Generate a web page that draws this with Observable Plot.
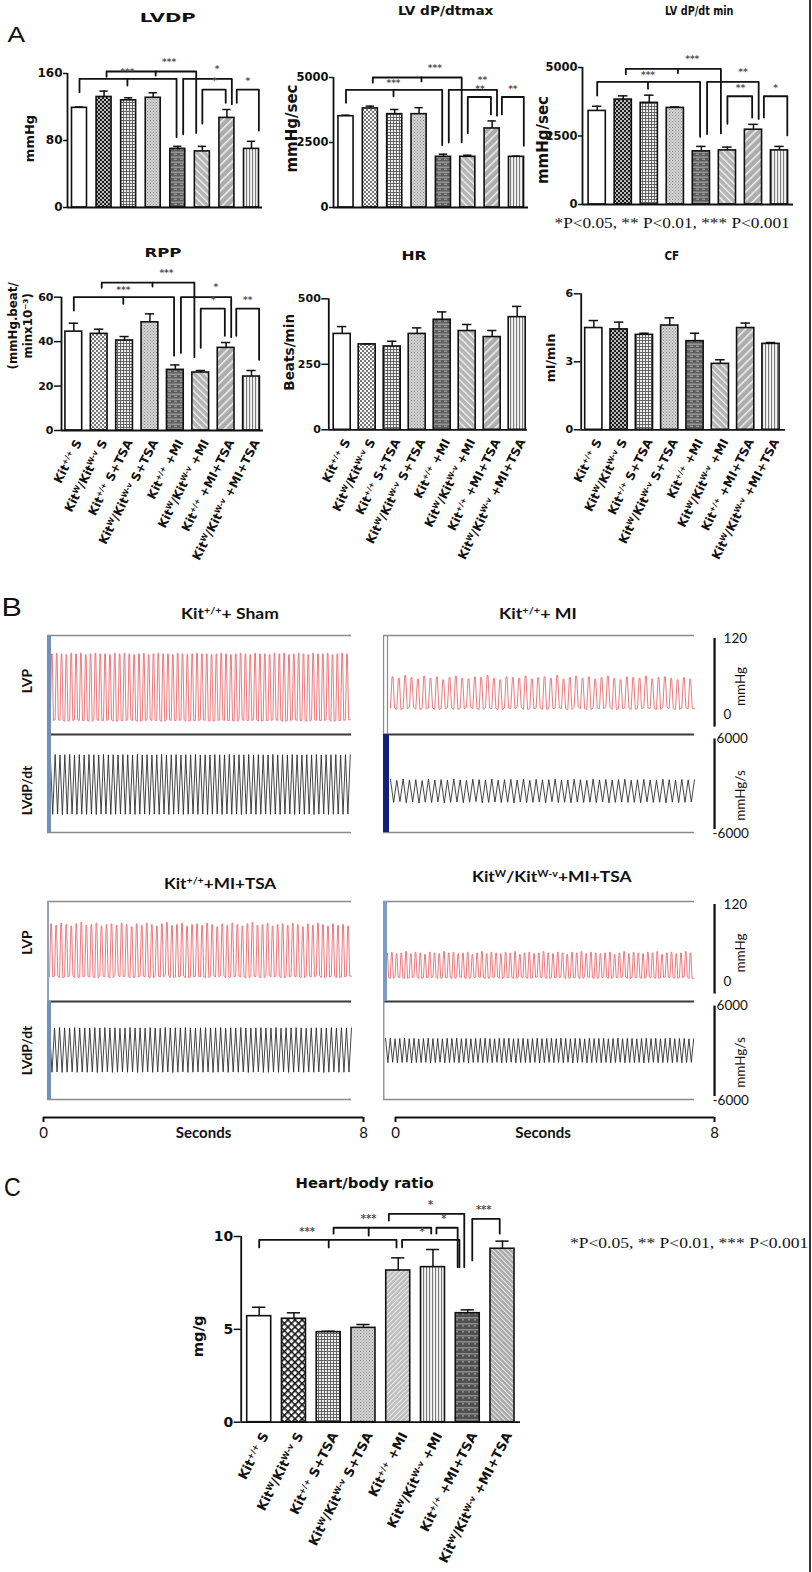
<!DOCTYPE html>
<html><head><meta charset="utf-8">
<script src="https://cdn.jsdelivr.net/npm/d3@7"></script>
<script src="https://cdn.jsdelivr.net/npm/@observablehq/plot@0.6"></script>
<style>
body{margin:0;background:#fff}
#fig{position:relative;width:812px;height:1572px;overflow:hidden;background:#fff}
.lab{position:absolute;white-space:nowrap;line-height:1;transform-origin:50% 50%;color:#111}
.lab sup{font-size:62%;vertical-align:0.55em;line-height:0}
</style></head><body>
<svg width="0" height="0" style="position:absolute"><defs>
<pattern id="pCheckD" width="4" height="4" patternUnits="userSpaceOnUse"><rect width="4" height="4" fill="#1e1e1e"/><circle cx="1" cy="1" r="0.95" fill="#fff"/><circle cx="3" cy="3" r="0.95" fill="#fff"/></pattern>
<pattern id="pCheckL" width="4" height="4" patternUnits="userSpaceOnUse"><rect width="4" height="4" fill="#fafafa"/><rect width="2" height="2" fill="#777"/><rect x="2" y="2" width="2" height="2" fill="#777"/></pattern>
<pattern id="pGrid" width="3" height="3" patternUnits="userSpaceOnUse"><rect width="3" height="3" fill="#efefef"/><path d="M0 0.5H3M0.5 0V3" stroke="#5a5a5a" stroke-width="0.9"/></pattern>
<pattern id="pStip" width="3" height="3" patternUnits="userSpaceOnUse"><rect width="3" height="3" fill="#d2d2d2"/><rect width="1" height="1" fill="#8a8a8a"/><rect x="1.5" y="1.5" width="1" height="1" fill="#a0a0a0"/></pattern>
<pattern id="pHstr" width="6" height="5" patternUnits="userSpaceOnUse"><rect width="6" height="5" fill="#5e5e5e"/><rect y="1.5" width="6" height="1.4" fill="#9a9a9a"/><rect y="3.8" width="3" height="0.7" fill="#d0d0d0"/></pattern>
<pattern id="pHstr2" width="6" height="6" patternUnits="userSpaceOnUse"><rect width="6" height="6" fill="#505050"/><rect y="2" width="6" height="1.5" fill="#8c8c8c"/><rect y="4.5" width="2" height="0.8" fill="#ccc"/></pattern>
<pattern id="pDiagB" width="5" height="5" patternUnits="userSpaceOnUse" patternTransform="rotate(-45)"><rect width="5" height="5" fill="#b4b4b4"/><rect width="1.4" height="5" fill="#f2f2f2"/></pattern>
<pattern id="pDiagF" width="6" height="6" patternUnits="userSpaceOnUse" patternTransform="rotate(45)"><rect width="6" height="6" fill="#acacac"/><rect width="1.5" height="6" fill="#f0f0f0"/></pattern>
<pattern id="pVert" width="3" height="3" patternUnits="userSpaceOnUse"><rect width="3" height="3" fill="#f4f4f4"/><rect width="1.1" height="3" fill="#7a7a7a"/></pattern>
<pattern id="pXhatch" width="5" height="5" patternUnits="userSpaceOnUse" patternTransform="rotate(45)"><rect width="5" height="5" fill="#fff"/><path d="M0.8 0V5M0 0.8H5" stroke="#111" stroke-width="1.6"/></pattern>
<pattern id="pDiagF2" width="3.5" height="3.5" patternUnits="userSpaceOnUse" patternTransform="rotate(45)"><rect width="3.5" height="3.5" fill="#bdbdbd"/><rect width="1" height="3.5" fill="#f0f0f0"/></pattern>
<pattern id="pDiagB2" width="3.5" height="3.5" patternUnits="userSpaceOnUse" patternTransform="rotate(-45)"><rect width="3.5" height="3.5" fill="#a8a8a8"/><rect width="1" height="3.5" fill="#eeeeee"/></pattern>
</defs></svg>
<div id="fig"></div>
<script>
// ---------------- DATA ----------------
const categories = ["Kit^{+/+} S", "Kit^{W}/Kit^{W-v} S", "Kit^{+/+} S+TSA", "Kit^{W}/Kit^{W-v} S+TSA",
  "Kit^{+/+} +MI", "Kit^{W}/Kit^{W-v} +MI", "Kit^{+/+} +MI+TSA", "Kit^{W}/Kit^{W-v} +MI+TSA"];

const lvdp = [119, 132, 128, 131, 70, 67, 107, 70];
const lvdpErr = [1, 7, 3, 6, 3, 6, 10, 9];
const dpmax = [3510, 3810, 3590, 3590, 1950, 1950, 3040, 1950];
const dpmaxErr = [40, 90, 180, 250, 100, 60, 290, 25];
const dpmin = [3415, 3830, 3710, 3525, 1940, 1975, 2730, 1975];
const dpminErr = [170, 135, 280, 35, 180, 120, 195, 145];
const rpp = [44.5, 43.5, 40.5, 48.7, 27.3, 26.1, 37.2, 24.3];
const rppErr = [3.8, 2.1, 1.8, 3.8, 2.2, 0.9, 2.4, 2.7];
const hr = [366, 326, 318, 366, 420, 377, 354, 430];
const hrErr = [28, 2, 20, 23, 30, 25, 25, 41];
const cf = [4.49, 4.43, 4.19, 4.60, 3.91, 2.91, 4.49, 3.79];
const cfErr = [0.33, 0.32, 0.07, 0.34, 0.35, 0.18, 0.22, 0.06];
const heartBody = [5.71, 5.57, 4.85, 5.08, 8.17, 8.35, 5.87, 9.34];
const heartBodyErr = [0.48, 0.32, 0.05, 0.18, 0.68, 0.95, 0.18, 0.41];

const ticksLVDP = [0, 80, 160];
const ticksDP = [0, 2500, 5000];
const ticksRPP = [0, 20, 40, 60];
const ticksHR = [0, 250, 500];
const ticksCF = [0, 3, 6];
const ticksHB = [0, 5, 10];
const secondsTicks = [0, 8];

const sigLVDP = {T: "***", L: "***", R1: "*", S1: "*", R2: "*"};
const sigDPmax = {T: "***", L: "***", R1: "**", S1: "**", R2: "**"};
const sigDPmin = {T: "***", L: "***", R1: "**", S1: "**", R2: "*"};
const sigRPP = {T: "***", L: "***", R1: "*", S1: "*", R2: "**"};
const hbBrackets = [
  {x1: 0, x2: 3.95, level: 9.82, y1: 9.41, y2: 9.41, tick: 2.0, tickEnd: 9.41, s: "***", lx: 1.38, ly: 10.27},
  {x1: 2.14, x2: 4.95, level: 10.47, y1: 10.16, y2: 10.16, tick: 3.15, tickEnd: 10.05, s: "***", lx: 3.15, ly: 10.97},
  {x1: 3.73, x2: 5.9, level: 11.22, y1: 10.86, y2: 8.35, s: "*", lx: 4.93, ly: 11.72},
  {x1: 5.1, x2: 5.71, level: 10.47, y1: 10.16, y2: 8.35, s: "*", lx: 5.31, ly: 10.93},
  {x1: 4.11, x2: 5.76, level: 9.82, y1: 9.42, y2: 8.35, s: "*", lx: 4.69, ly: 10.24},
  {x1: 6.13, x2: 6.92, level: 10.95, y1: 8.71, y2: 10.15, s: "***", lx: 6.46, ly: 11.42}
];

const shamLvpPk = [99,100,99,98,100,99,100,98,99,100, 99,99,98,100,99,100,99,98,99,100, 98,99,100,99,99,98,100,99,98,99, 100,99,99,98,99,100,99,98,99,100, 99,98,100,99,99,98,100,99,100,98, 99,100,99,98,100,99,99,100,98,99, 100,99];
const shamLvpTr = [9,10,9,8,9,10,9,9,8,10, 9,9,10,8,9,9,10,9,8,9, 10,9,9,8,10,9,9,10,8,9, 9,10,9,8,9,10,9,9,8,10, 9,9,10,8,9,9,10,9,8,9, 10,9,9,8,10,9,9,10,8,9, 9,10];
const shamDpPk = [3900,3950,3880,3920,3960,3890,3930,3870,3940,3910, 3880,3950,3900,3920,3870,3940,3910,3890,3960,3900, 3930,3880,3920,3950,3890,3910,3940,3870,3930,3900, 3950,3890,3920,3880,3940,3910,3900,3960,3880,3920, 3900,3940,3870,3930,3910,3890,3950,3900,3920,3880, 3940,3910,3890,3930,3900,3950,3880,3920,3910,3940, 3890,3920];
const shamDpTr = [-3980,-3950,-4010,-3970,-3940,-4000,-3960,-3990,-3950,-4020, -3970,-3940,-4000,-3980,-3960,-3990,-3950,-4010,-3970,-3940, -4000,-3960,-3990,-3950,-4020,-3970,-3940,-4000,-3980,-3960, -3990,-3950,-4010,-3970,-3940,-4000,-3960,-3990,-3950,-4020, -3970,-3940,-4000,-3980,-3960,-3990,-3950,-4010,-3970,-3940, -4000,-3960,-3990,-3950,-4020,-3970,-3940,-4000,-3980,-3960, -3990,-3950];

const miLvpPk = [68,66,70,67,65,69,66,68,64,67, 69,66,65,68,67,70,66,64,68,67, 66,69,65,67,68,66,70,65,67,69, 66,68,65,67,69,66,64,68,67,66, 69,65,67,68,66,64,67,65];
const miLvpTr = [26,24,25,27,24,25,26,24,25,26, 24,25,27,25,24,26,25,24,26,25, 27,24,25,26,24,25,26,25,24,27, 25,24,26,25,27,24,25,26,24,25, 26,25,24,27,25,24,26,25];
const miDpPk = [650,520,700,580,610,480,690,560,620,540, 700,590,510,660,620,570,690,530,600,650, 560,700,520,640,590,610,680,540,570,660, 600,520,690,580,640,550,610,670,530,600, 650,580,520,690,600,560,640,590];
const miDpTr = [-2400,-2300,-2450,-2350,-2500,-2380,-2420,-2330,-2470,-2400, -2350,-2440,-2380,-2300,-2460,-2410,-2360,-2430,-2390,-2480, -2340,-2420,-2400,-2370,-2450,-2310,-2430,-2390,-2460,-2350, -2410,-2380,-2440,-2330,-2470,-2400,-2360,-2420,-2390,-2450, -2340,-2410,-2380,-2460,-2370,-2430,-2400,-2350];

const tsaLvpPk = [94,92,95,93,91,94,96,92,93,95, 91,93,94,92,95,93,90,94,92,95, 93,91,94,96,92,93,95,91,93,94, 92,95,93,90,94,92,95,93,91,94, 96,92,93,95,91,93,94,92,95,93, 90,94,92,95,93,91,94,92,93,91];
const tsaLvpTr = [23,24,22,23,25,22,23,24,23,22, 24,23,22,25,23,24,22,23,24,23, 22,24,23,25,22,23,24,22,23,24, 23,22,24,23,25,22,23,24,23,22, 24,23,22,25,23,24,22,23,24,23, 22,24,23,25,22,23,24,22,23,24];
const tsaDpPk = [3120,3080,3150,3100,3060,3140,3090,3110,3070,3130, 3100,3150,3080,3120,3060,3100,3140,3090,3110,3070, 3130,3100,3060,3150,3080,3120,3090,3140,3100,3070, 3110,3130,3080,3100,3150,3060,3120,3090,3140,3100, 3070,3110,3130,3080,3100,3150,3060,3120,3090,3140, 3100,3070,3110,3130,3080,3100,3150,3060,3120,3090];
const tsaDpTr = [-2780,-2750,-2810,-2770,-2740,-2800,-2760,-2790,-2750,-2820, -2770,-2740,-2800,-2780,-2760,-2790,-2750,-2810,-2770,-2740, -2800,-2760,-2790,-2750,-2820,-2770,-2740,-2800,-2780,-2760, -2790,-2750,-2810,-2770,-2740,-2800,-2760,-2790,-2750,-2820, -2770,-2740,-2800,-2780,-2760,-2790,-2750,-2810,-2770,-2740, -2800,-2760,-2790,-2750,-2820,-2770,-2740,-2800,-2780,-2760];

const wLvpPk = [55,56,54,55,57,54,56,55,53,56, 55,54,57,55,56,54,55,56,53,55, 57,54,56,55,54,56,55,57,53,55, 56,54,55,57,55,54,56,55,53,56, 55,57,54,56,55,54,55,56,53,55, 57,54,56,55,54,56,55,57,53,55, 56,54,55,57,55];
const wLvpTr = [22,21,23,22,21,22,23,21,22,22, 23,21,22,22,21,23,22,21,22,23, 22,21,22,23,21,22,22,21,23,22, 21,22,23,22,21,22,22,23,21,22, 22,21,23,22,21,22,23,21,22,22, 23,21,22,22,21,23,22,21,22,23, 22,21,22,23,21];
const wDpPk = [1690,1720,1660,1700,1740,1670,1710,1650,1690,1730, 1680,1700,1660,1720,1690,1740,1670,1700,1650,1710, 1690,1730,1680,1660,1720,1700,1740,1670,1690,1710, 1650,1700,1730,1680,1690,1720,1660,1740,1700,1670, 1710,1690,1650,1730,1680,1700,1720,1660,1690,1740, 1670,1710,1700,1650,1690,1730,1680,1720,1660,1700, 1740,1670,1690,1710,1650];
const wDpTr = [-1500,-1470,-1530,-1490,-1460,-1520,-1480,-1510,-1470,-1540, -1490,-1460,-1520,-1500,-1480,-1510,-1470,-1530,-1490,-1460, -1520,-1480,-1510,-1470,-1540,-1490,-1460,-1520,-1500,-1480, -1510,-1470,-1530,-1490,-1460,-1520,-1480,-1510,-1470,-1540, -1490,-1460,-1520,-1500,-1480,-1510,-1470,-1530,-1490,-1460, -1520,-1480,-1510,-1470,-1540,-1490,-1460,-1520,-1500,-1480, -1510,-1470,-1530,-1490,-1460];

// ---------------- HELPERS ----------------
const SANS = "'DejaVu Sans', sans-serif";
const LATO = "Lato, 'Open Sans', sans-serif";
const SERIF = "'Liberation Serif', 'Times New Roman', serif";
const SVGNS = "http://www.w3.org/2000/svg";
const fig = document.getElementById("fig");

function place(node, left, top, w, h) {
  const d = document.createElement("div");
  d.style.cssText = `position:absolute;left:${left}px;top:${top}px;width:${w}px;height:${h}px;`;
  d.appendChild(node);
  fig.appendChild(d);
}
function richify(root) {
  root.querySelectorAll("text").forEach(t => {
    const s = t.textContent;
    if (!s.includes("^{")) return;
    while (t.firstChild) t.removeChild(t.firstChild);
    const add = (str, sup) => {
      if (!str) return;
      const ts = document.createElementNS(SVGNS, "tspan");
      ts.textContent = str;
      if (sup) { ts.setAttribute("font-size", "62%"); ts.setAttribute("baseline-shift", "super"); }
      t.appendChild(ts);
    };
    const re = /\^\{([^}]*)\}/g; let last = 0, m;
    while ((m = re.exec(s))) { add(s.slice(last, m.index), false); add(m[1], true); last = re.lastIndex; }
    add(s.slice(last), false);
  });
}
function addLabel(html, cx, cy, o) {
  const d = document.createElement("div");
  d.className = "lab";
  d.innerHTML = html;
  d.style.font = `${o.weight || "bold"} ${o.size}px ${o.family || SANS}`;
  fig.appendChild(d);
  const w = d.offsetWidth, h = d.offsetHeight;
  const k = o.w ? o.w / w : 1;
  d.style.left = (cx - w / 2) + "px";
  d.style.top = (cy - h / 2) + "px";
  d.style.transform = `scaleX(${k})`;
}

const sigTemplate = [
  {key: "T", x1: 1.1, x2: 4.75, lvl: "T", leg1: -0.04, bar2: 5, gap2: 0.1, tick: 3.1, tickLen: 0.03, lx: 3.65, ly: 0.07},
  {key: "L", x1: 0, x2: 3.95, lvl: "L", leg1: -0.1, bar2: 4, gap2: 0.07, tick: 1.95, tickLen: 0.05, lx: 1.95, ly: 0.05},
  {key: "R1", x1: 4.22, x2: 6.2, lvl: "L", bar1: 4, gap1: 0.09, bar2: 6, gap2: 0.04, lx: 5.6, ly: 0.075},
  {key: "S1", x1: 5.0, x2: 5.95, lvl: "S", bar1: 5, gap1: 0.17, bar2: 6, gap2: 0.05, lx: 5.5, ly: 0.06},
  {key: "R2", x1: 6.4, x2: 7.3, lvl: "S", bar1: 6, gap1: 0.05, bar2: 7, gap2: 0.08, lx: 6.85, ly: 0.06}
];
function templateBrackets(vals, errs, ymax, lv, labels) {
  const top = i => (vals[i] + errs[i]) / ymax;
  const lines = [], txt = [];
  sigTemplate.forEach((b, k) => {
    const level = lv[b.lvl];
    const y1 = b.bar1 != null ? top(b.bar1) + b.gap1 : level + b.leg1;
    const y2 = top(b.bar2) + b.gap2;
    lines.push({id: "b" + k, x: b.x1, y: y1 * ymax}, {id: "b" + k, x: b.x1, y: level * ymax},
      {id: "b" + k, x: b.x2, y: level * ymax}, {id: "b" + k, x: b.x2, y: y2 * ymax});
    if (b.tick != null) lines.push({id: "t" + k, x: b.tick, y: level * ymax}, {id: "t" + k, x: b.tick, y: (level - b.tickLen) * ymax});
    txt.push({x: b.lx, y: (level + b.ly) * ymax, s: labels[b.key]});
  });
  return {lines, txt};
}
function explicitBrackets(list) {
  const lines = [], txt = [];
  list.forEach((b, k) => {
    lines.push({id: "b" + k, x: b.x1, y: b.y1}, {id: "b" + k, x: b.x1, y: b.level},
      {id: "b" + k, x: b.x2, y: b.level}, {id: "b" + k, x: b.x2, y: b.y2});
    if (b.tick != null) lines.push({id: "t" + k, x: b.tick, y: b.level}, {id: "t" + k, x: b.tick, y: b.tickEnd});
    txt.push({x: b.lx, y: b.ly, s: b.s});
  });
  return {lines, txt};
}

function barChart(c) {
  const s = (c.c7 - c.c0) / 7;
  const d0 = (c.axis - c.c0) / s, d1 = (c.right - c.c0) / s;
  const data = c.vals.map((v, i) => ({i, v, top: v + c.errs[i]}));
  const hw = c.hw;
  const marks = [];
  data.forEach((d, i) => marks.push(Plot.rect([d], {x1: e => e.i - hw, x2: e => e.i + hw, y1: 0, y2: "v",
    fill: c.pats[i], stroke: "#111", strokeWidth: 1.6})));
  marks.push(Plot.ruleX(data, {x: "i", y1: "v", y2: "top", stroke: "#111", strokeWidth: 1.5}));
  marks.push(Plot.ruleY(data, {y: "top", x1: d => d.i - hw * 0.55, x2: d => d.i + hw * 0.55, stroke: "#111", strokeWidth: 1.5}));
  marks.push(Plot.ruleY([0], {x1: d0, x2: d1, stroke: "#111", strokeWidth: 1.8}));
  marks.push(Plot.ruleX([d0], {y1: 0, y2: c.ymax, stroke: "#111", strokeWidth: 1.8}));
  marks.push(Plot.axisY(c.ticks, {tickFormat: d => String(d), tickSize: c.tickSize, tickPadding: c.tickPadding,
    fontSize: c.tickFont, strokeWidth: 1.5, label: null}));
  marks.push(Plot.text([{x: d0, y: c.ymax / 2, s: c.ylabel}], {x: "x", y: "y", text: "s", dx: c.ylx, dy: c.yly || 0, rotate: -90,
    fontSize: c.ylFont, lineAnchor: "middle", textAnchor: "middle", lineHeight: 1.25}));
  if (c.brackets) {
    marks.push(Plot.line(c.brackets.lines, {x: "x", y: "y", z: "id", stroke: "#111", strokeWidth: 1.8}));
    marks.push(Plot.text(c.brackets.txt, {x: "x", y: "y", text: "s", fontSize: c.starFont || 9, fill: "#555"}));
  }
  if (c.showX) {
    marks.push(Plot.text(categories, {x: (d, i) => i, y: 0, text: d => d, rotate: -63, textAnchor: "end",
      lineAnchor: "middle", dx: c.catDx, dy: c.catDy, fontSize: c.catFont}));
  }
  const svg = Plot.plot({
    width: c.w, height: c.h,
    marginLeft: c.axis - c.left, marginRight: c.left + c.w - c.right,
    marginTop: c.ytop - c.top, marginBottom: c.top + c.h - c.y0,
    x: {domain: [d0, d1], axis: null},
    y: {domain: [0, c.ymax], axis: null},
    style: {fontFamily: SANS, fontWeight: "bold", background: "transparent", overflow: "visible", color: "#111"},
    marks
  });
  richify(svg);
  place(svg, c.left, c.top, c.w, c.h);
}

const patsA = ["#ffffff", "url(#pCheckD)", "url(#pGrid)", "url(#pStip)", "url(#pHstr)", "url(#pDiagB)", "url(#pDiagF)", "url(#pVert)"];
const patsAL = ["#ffffff", "url(#pCheckL)", "url(#pGrid)", "url(#pStip)", "url(#pHstr)", "url(#pDiagB)", "url(#pDiagF)", "url(#pVert)"];
const patsC = ["#ffffff", "url(#pXhatch)", "url(#pGrid)", "url(#pStip)", "url(#pDiagF2)", "url(#pVert)", "url(#pHstr2)", "url(#pDiagB2)"];

// ---- Panel A row 1
barChart({vals: lvdp, errs: lvdpErr, ymax: 160, ticks: ticksLVDP, pats: patsA,
  left: 0, top: 45, w: 270, h: 170, axis: 67, right: 262, c0: 79, c7: 251, ytop: 73, y0: 207, hw: 0.305,
  tickSize: 4, tickPadding: 1, tickFont: 12, ylabel: "mmHg", ylx: -39, yly: -2, ylFont: 13,
  brackets: templateBrackets(lvdp, lvdpErr, 160, {T: 1.015, L: 0.96, S: 0.88}, sigLVDP)});
barChart({vals: dpmax, errs: dpmaxErr, ymax: 5000, ticks: ticksDP, pats: patsAL,
  left: 270, top: 45, w: 270, h: 170, axis: 333, right: 528, c0: 345.5, c7: 516, ytop: 77, y0: 207, hw: 0.31,
  tickSize: 4, tickPadding: 1, tickFont: 11.5, ylabel: "mmHg/sec", ylx: -43, yly: -14, ylFont: 15,
  brackets: templateBrackets(dpmax, dpmaxErr, 5000, {T: 1.0, L: 0.905, S: 0.85}, sigDPmax)});
barChart({vals: dpmin, errs: dpminErr, ymax: 5000, ticks: ticksDP, pats: patsA,
  left: 540, top: 40, w: 270, h: 175, axis: 582, right: 793, c0: 596.7, c7: 779, ytop: 67, y0: 204, hw: 0.33,
  tickSize: 4, tickPadding: 1, tickFont: 11.5, ylabel: "mmHg/sec", ylx: -41, yly: 4, ylFont: 15,
  brackets: templateBrackets(dpmin, dpminErr, 5000, {T: 0.99, L: 0.895, S: 0.79}, sigDPmin)});

// ---- Panel A row 2
barChart({vals: rpp, errs: rppErr, ymax: 60, ticks: ticksRPP, pats: patsAL,
  left: 0, top: 262, w: 270, h: 310, axis: 61, right: 263, c0: 73.3, c7: 251, ytop: 296.7, y0: 430, hw: 0.33,
  tickSize: 7, tickPadding: 1, tickFont: 11, ylabel: "(mmHg.beat/\nminx10\u207B\u00B3)", ylx: -42, yly: -38, ylFont: 11.8,
  brackets: templateBrackets(rpp, rppErr, 60, {T: 1.11, L: 1.0, S: 0.915}, sigRPP),
  showX: true, catDx: 5, catDy: 10, catFont: 12});
barChart({vals: hr, errs: hrErr, ymax: 500, ticks: ticksHR, pats: patsAL,
  left: 270, top: 262, w: 270, h: 310, axis: 328.3, right: 527, c0: 341.7, c7: 516.7, ytop: 298.3, y0: 429.3, hw: 0.34,
  tickSize: 7, tickPadding: 1, tickFont: 11, ylabel: "Beats/min", ylx: -40, yly: -12, ylFont: 13.6,
  showX: true, catDx: 5, catDy: 10, catFont: 12});
barChart({vals: cf, errs: cfErr, ymax: 6, ticks: ticksCF, pats: patsA,
  left: 540, top: 262, w: 270, h: 310, axis: 580.7, right: 785, c0: 593.3, c7: 770.5, ytop: 293.3, y0: 429.3, hw: 0.34,
  tickSize: 7, tickPadding: 1, tickFont: 11, ylabel: "ml/min", ylx: -31, yly: -4, ylFont: 12.7,
  showX: true, catDx: 5, catDy: 10, catFont: 12});

// ---- Panel C
barChart({vals: heartBody, errs: heartBodyErr, ymax: 10, ticks: ticksHB, pats: patsC,
  left: 150, top: 1195, w: 380, h: 377, axis: 240.7, right: 520, c0: 258.7, c7: 502, ytop: 1236, y0: 1421.7, hw: 0.345,
  tickSize: 7, tickPadding: 1, tickFont: 14, ylabel: "mg/g", ylx: -44, yly: 7, ylFont: 14.8,
  brackets: explicitBrackets(hbBrackets), starFont: 10,
  showX: true, catDx: 6, catDy: 11, catFont: 13});

// ---------------- Panel B traces ----------------
const LVP_DOMAIN = [-10, 124];
const DP_DOMAIN = [-6400, 6600];
const RED = "#ec6a6e";
// pressure beat: trough -> steep rise -> short plateau at peak -> steep fall -> rest at trough
function pressurePoints(pk, tr, t0, t1) {
  const n = Math.min(pk.length, tr.length);
  const T = (t1 - t0) / n;
  const pts = [];
  for (let k = 0; k < n; k++) {
    const b = t0 + k * T;
    pts.push({t: b, v: tr[k]}, {t: b + 0.25 * T, v: pk[k]}, {t: b + 0.4 * T, v: pk[k]}, {t: b + 0.65 * T, v: tr[k]});
  }
  pts.push({t: t1, v: tr[n - 1]});
  return pts;
}
// dP/dt beat: alternating positive and negative extremes
function derivPoints(pk, tr, t0, t1) {
  const n = Math.min(pk.length, tr.length);
  const T = (t1 - t0) / n;
  const pts = [];
  for (let k = 0; k < n; k++) {
    const b = t0 + k * T;
    pts.push({t: b, v: pk[k]}, {t: b + 0.5 * T, v: tr[k]});
  }
  pts.push({t: t1, v: pk[n - 1]});
  return pts;
}
function edgeMarks(e) {
  const m = [Plot.ruleX([0], {stroke: e.c, strokeWidth: e.w, dx: e.w / 2 - 0.5})];
  if (e.dbl) m.push(Plot.ruleX([0], {stroke: e.c, strokeWidth: e.w, dx: 4}));
  return m;
}
const SCALE_T = 8.09;
function traceBox(b) {
  const mL = b.x0 - b.plotLeft, mR = b.plotLeft + b.plotW - b.x1;
  const st = {fontFamily: LATO, background: "transparent", overflow: "visible", color: "#111"};
  const m1 = [
    Plot.ruleY([LVP_DOMAIN[1]], {stroke: "#8a8a8a", strokeWidth: 1.5}),
    Plot.ruleY([LVP_DOMAIN[0]], {stroke: "#3a3a3a", strokeWidth: 1.8}),
    Plot.line(pressurePoints(b.lvp[0], b.lvp[1], b.t[0], b.t[1]), {x: "t", y: "v", stroke: RED, strokeWidth: 0.9}),
    ...edgeMarks(b.barTop)
  ];
  if (b.leftLabels) m1.push(Plot.text([{t: 0, v: 57, s: "LVP"}], {x: "t", y: "v", text: "s", dx: -20, dy: b.lvpDy, rotate: -90, fontSize: 14, fontWeight: "bold"}));
  if (b.scale) {
    m1.push(Plot.ruleX([SCALE_T], {y1: 0, y2: 120, stroke: "#111", strokeWidth: 2.3}));
    m1.push(Plot.text([{v: 120, s: "120"}], {x: SCALE_T, y: "v", text: "s", dx: 9, textAnchor: "start", fontSize: 13.5}));
    m1.push(Plot.text([{v: 0, s: "0"}], {x: SCALE_T, y: "v", text: "s", dx: 9, dy: -12, textAnchor: "start", fontSize: 13.5}));
    m1.push(Plot.text([{v: 55, s: "mmHg"}], {x: SCALE_T, y: "v", text: "s", dx: 26, rotate: -90, fontSize: 13.5}));
  }
  const p1 = Plot.plot({width: b.plotW, height: (b.yB - b.yA) + 8, marginLeft: mL, marginRight: mR, marginTop: 8, marginBottom: 0,
    x: {domain: [0, 7.6], axis: null}, y: {domain: LVP_DOMAIN, axis: null}, style: st, marks: m1});
  place(p1, b.plotLeft, b.yA - 8, b.plotW, (b.yB - b.yA) + 8);
  const m2 = [
    Plot.ruleY([DP_DOMAIN[0]], {stroke: "#8a8a8a", strokeWidth: 1.5}),
    Plot.line(derivPoints(b.dp[0], b.dp[1], b.t[0], b.t[1]), {x: "t", y: "v", stroke: "#262626", strokeWidth: 0.85}),
    ...edgeMarks(b.barBot)
  ];
  if (b.leftLabels) m2.push(Plot.text([{t: 0, v: 100, s: "LVdP/dt"}], {x: "t", y: "v", text: "s", dx: -20, dy: b.dpDy, rotate: -90, fontSize: 14, fontWeight: "bold"}));
  if (b.scale) {
    m2.push(Plot.ruleX([SCALE_T], {y1: -6000, y2: 6000, stroke: "#111", strokeWidth: 2.3}));
    m2.push(Plot.text([{v: 6000, s: "6000"}], {x: SCALE_T, y: "v", text: "s", dx: 2, textAnchor: "start", fontSize: 13.5}));
    m2.push(Plot.text([{v: -6000, s: "-6000"}], {x: SCALE_T, y: "v", text: "s", dx: -2, dy: 4, textAnchor: "start", fontSize: 13.5}));
    m2.push(Plot.text([{v: -1500, s: "mmHg/s"}], {x: SCALE_T, y: "v", text: "s", dx: 26, rotate: -90, fontSize: 13.5}));
  }
  const p2 = Plot.plot({width: b.plotW, height: (b.yC - b.yB) + 10, marginLeft: mL, marginRight: mR, marginTop: 0, marginBottom: 10,
    x: {domain: [0, 7.6], axis: null}, y: {domain: DP_DOMAIN, axis: null}, style: st, marks: m2});
  place(p2, b.plotLeft, b.yB, b.plotW, (b.yC - b.yB) + 10);
}
traceBox({x0: 47, x1: 351, yA: 635, yB: 734, yC: 832, plotLeft: 0, plotW: 380, lvp: [shamLvpPk, shamLvpTr], dp: [shamDpPk, shamDpTr],
  t: [0.07, 7.57], barTop: {c: "#7191bb", w: 4}, barBot: {c: "#7191bb", w: 4}, leftLabels: true, lvpDy: -4, dpDy: 7});
traceBox({x0: 383, x1: 694, yA: 635, yB: 734, yC: 832, plotLeft: 378, plotW: 420, lvp: [miLvpPk, miLvpTr], dp: [miDpPk, miDpTr],
  t: [0.17, 7.6], barTop: {c: "#8c8c8c", w: 1.2, dbl: true}, barBot: {c: "#15207a", w: 6}, scale: true});
traceBox({x0: 47, x1: 351, yA: 901, yB: 1001, yC: 1099, plotLeft: 0, plotW: 380, lvp: [tsaLvpPk, tsaLvpTr], dp: [tsaDpPk, tsaDpTr],
  t: [0.05, 7.6], barTop: {c: "#8fa3bd", w: 2}, barBot: {c: "#7191bb", w: 4}, leftLabels: true, lvpDy: -9, dpDy: 0});
traceBox({x0: 383, x1: 694, yA: 901, yB: 1001, yC: 1099, plotLeft: 378, plotW: 420, lvp: [wLvpPk, wLvpTr], dp: [wDpPk, wDpTr],
  t: [0.05, 7.58], barTop: {c: "#7d9bc4", w: 4}, barBot: {c: "#9a9a9a", w: 1.5}, scale: true});

function secondsAxis(left, x0, x1, labelX) {
  const w = 380;
  const svg = Plot.plot({width: w, height: 45, marginLeft: x0 - left, marginRight: left + w - x1, marginTop: 8, marginBottom: 36,
    x: {domain: [0, 8], axis: null}, y: {domain: [0, 1], axis: null},
    style: {fontFamily: LATO, background: "transparent", overflow: "visible", color: "#111"},
    marks: [
      Plot.ruleY([0], {x1: 0, x2: 8, stroke: "#111", strokeWidth: 2}),
      Plot.ruleX(secondsTicks, {x: d => d, y1: 0, y2: -5, stroke: "#111", strokeWidth: 2}),
      Plot.text(secondsTicks, {x: d => d, y: 0, dy: 16, text: d => String(d), fontSize: 15}),
      Plot.text(["Seconds"], {x: labelX, y: 0, dy: 16, text: d => d, fontSize: 15, fontWeight: "bold"})
    ]});
  place(svg, left, 1108, w, 45);
}
secondsAxis(20, 43, 363, 4);
secondsAxis(380, 395, 714, 3.7);

// ---------------- Text labels ----------------
addLabel("A", 16, 35, {size: 22, weight: "normal", family: "'Liberation Sans', Arial, sans-serif", w: 18});
addLabel("LVDP", 167, 17, {size: 12.5, w: 55});
addLabel("LV dP/dtmax", 445, 10, {size: 12.5, w: 95});
addLabel("LV dP/dt min", 699, 10, {size: 12.5, w: 68});
addLabel("*P&lt;0.05, ** P&lt;0.01, *** P&lt;0.001", 672, 223, {size: 15, weight: "normal", family: SERIF, w: 235});
addLabel("RPP", 163, 252, {size: 12.5, w: 37});
addLabel("HR", 414, 255, {size: 12.5, w: 25});
addLabel("CF", 672, 255, {size: 12.5, w: 15});
addLabel("B", 11, 607, {size: 26, weight: "normal", family: "'Liberation Sans', Arial, sans-serif", w: 20});
addLabel("Kit<sup>+/+</sup>+ Sham", 230, 613, {size: 15, family: LATO, w: 98});
addLabel("Kit<sup>+/+</sup>+ MI", 538, 613, {size: 15, family: LATO, w: 78});
addLabel("Kit<sup>+/+</sup>+MI+TSA", 220, 883, {size: 15, family: LATO, w: 112});
addLabel("Kit<sup>W</sup>/Kit<sup>W-v</sup>+MI+TSA", 552, 876, {size: 15, family: LATO, w: 160});
addLabel("C", 12, 1187, {size: 26, weight: "normal", family: "'Liberation Sans', Arial, sans-serif", w: 17});
addLabel("Heart/body ratio", 364, 1183, {size: 14.5, w: 138});
addLabel("*P&lt;0.05, ** P&lt;0.01, *** P&lt;0.001", 689, 1243, {size: 15, weight: "normal", family: SERIF, w: 238});

const edge = document.createElement("div");
edge.style.cssText = "position:absolute;left:809px;top:0;width:1.5px;height:1572px;background:#333";
fig.appendChild(edge);
</script>
</body></html>
